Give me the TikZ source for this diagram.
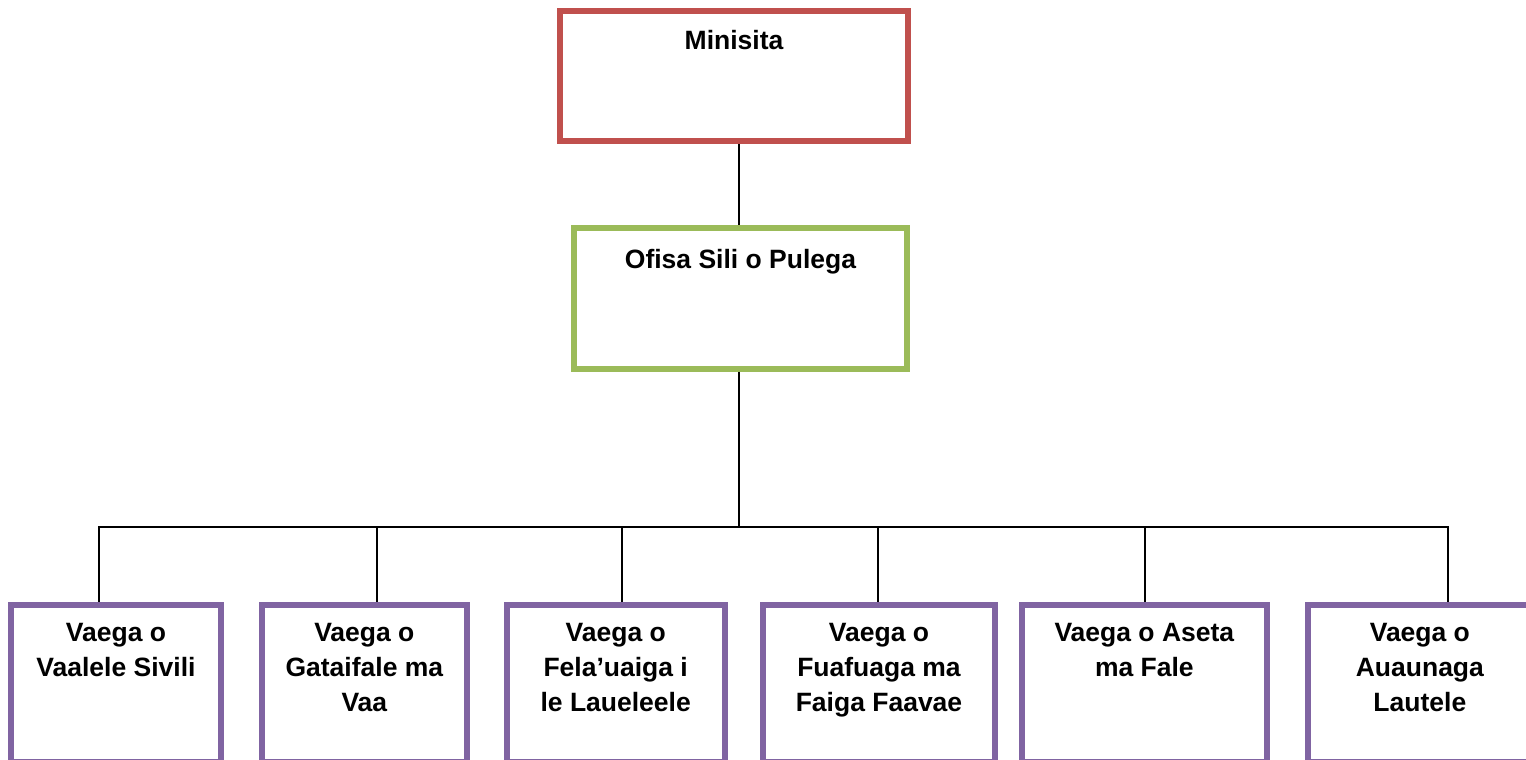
\documentclass[tikz,border=0pt]{standalone}
\usepackage{fontspec}
\setmainfont{Liberation Sans}
\definecolor{redb}{HTML}{C0504D}
\definecolor{greenb}{HTML}{9BBB59}
\definecolor{purpleb}{HTML}{8064A2}
\begin{document}
\begin{tikzpicture}[x=1pt,y=-1pt,
  box/.style={line width=6pt},
  lbl/.style={inner sep=0pt,font=\fontsize{26.5}{35}\selectfont\bfseries,align=center,anchor=north},
  conn/.style={line width=2pt,black}]
\useasboundingbox (0,0) rectangle (1526,760);
% top boxes
\draw[box,redb] (560,11) rectangle (908,141);
\coordinate (minB) at (739,144);
\node[lbl] (min) at (734,30) {Minisita};
\draw[box,greenb] (574,228) rectangle (907,368.5);
\coordinate (ofT) at (739,225);
\coordinate (ofB) at (739,371.5);
\node[lbl] (of) at (740.5,249) {Ofisa Sili o Pulega};
% bottom boxes
\foreach \i/\l/\r/\c/\t in {
  1/11/221/99/{Vaega o\\Vaalele Sivili},
  2/261.7/467/376.7/{Vaega o\\Gataifale ma\\Vaa},
  3/506.7/724.7/621.7/{Vaega o\\Fela’uaiga i\\le Laueleele},
  4/762.7/995.3/877.7/{Vaega o\\Fuafuaga ma\\Faiga Faavae},
  5/1021.7/1267/1145/{Vaega o Aseta\\ma Fale},
  6/1307.7/1532/1448.3/{Vaega o\\Auaunaga\\Lautele}}{
  \draw[box,purpleb] (\l,604.5) rectangle (\r,762);
  \coordinate (b\i) at (\c,601.5);
  \node[lbl] (t\i) at ({(\l+\r)/2},623) {\t};
}
% connectors
\draw[conn] (minB) -- (ofT);
\coordinate (hub) at (739,526.7);
\draw[conn] (ofB) -- (hub);
\draw[conn] (b1) |- (hub) -| (b6);
\foreach \i in {2,3,4,5}{\draw[conn] (b\i) -- (b\i |- hub);}
\end{tikzpicture}
\end{document}
